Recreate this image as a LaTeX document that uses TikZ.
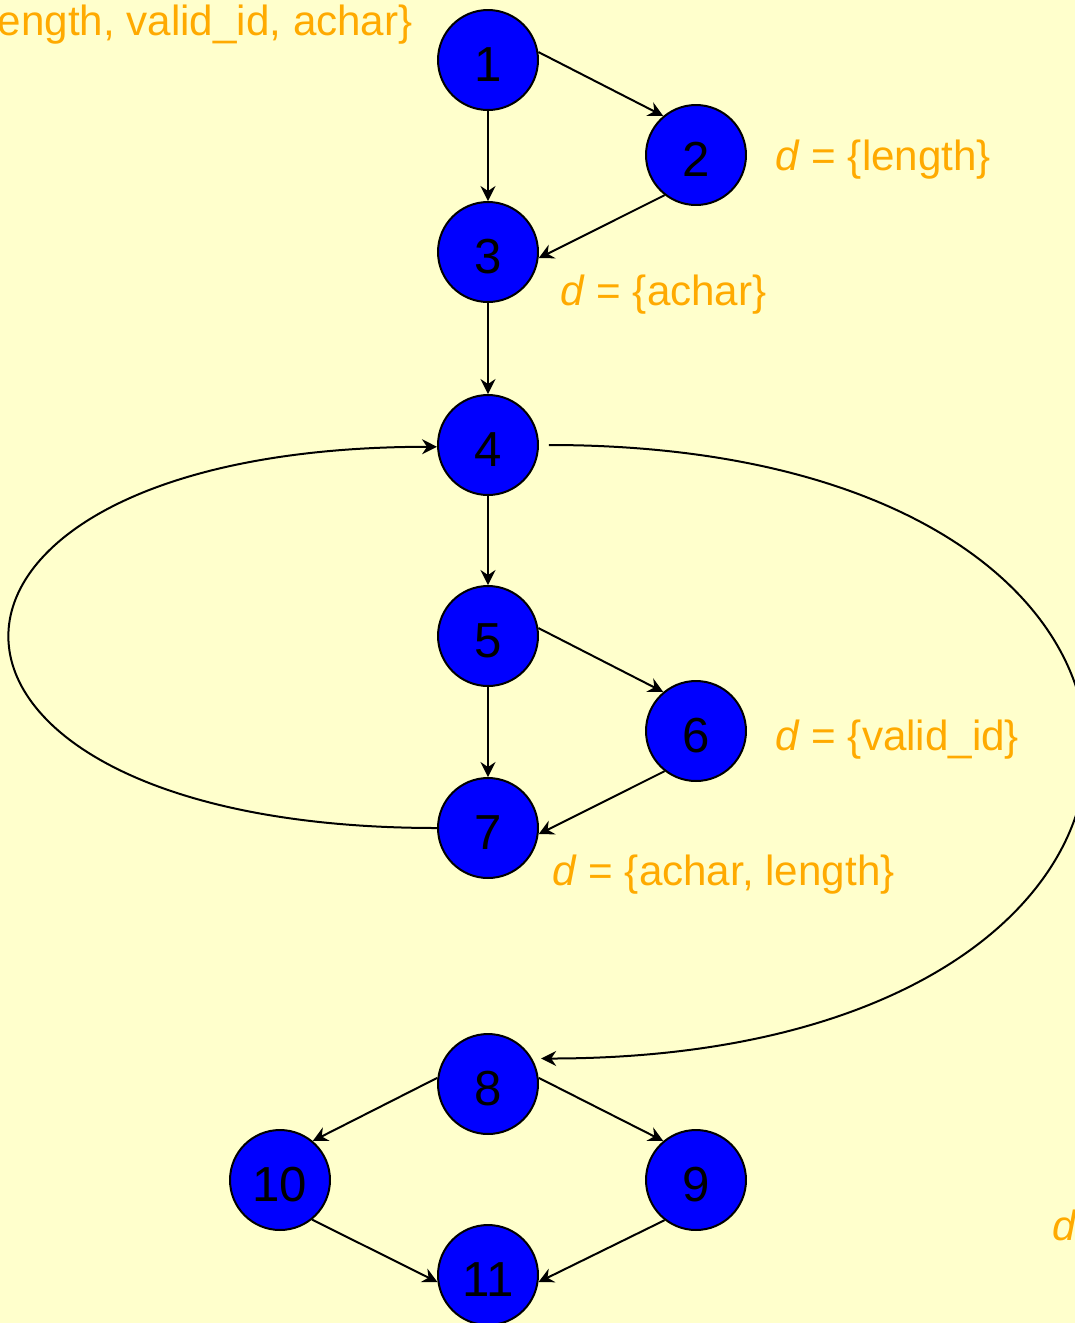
\documentclass[tikz,border=0pt]{standalone}
\usepackage{fontspec}
\setmainfont{Liberation Sans}
\usetikzlibrary{arrows.meta}
\definecolor{slidebg}{HTML}{FFFFCC}
\definecolor{deforange}{HTML}{FFAA00}
\definecolor{nodeblue}{HTML}{0000FF}

\begin{document}
\begin{tikzpicture}[
  x=0.02cm, y=-0.02cm,
  block/.style={circle, draw=black, line width=0.04cm, fill=nodeblue, minimum size=2cm, inner sep=0pt, text height=0.86cm, text depth=0pt, font=\fontsize{28}{28}\selectfont},
  defset/.style={text=deforange, inner sep=0pt, font=\fontsize{24}{24}\selectfont},
  flow/.style={-{Stealth[length=0.3cm, width=0.3cm, inset=0.1cm]}, line width=0.04cm},
]
\useasboundingbox (0,0) rectangle (1075,1323);
\clip (0,0) rectangle (1075,1323);
\fill[slidebg] (0,0) rectangle (1075,1323);

% nodes of the flow graph
\node[block] (n1) at (488,60) {1};
\node[block] (n2) at (696,155) {2};
\node[block] (n3) at (488,252) {3};
\node[block] (n4) at (488,445) {4};
\node[block] (n5) at (488,636) {5};
\node[block] (n6) at (696,731) {6};
\node[block] (n7) at (488,828) {7};
\node[block] (n8) at (488,1084) {8};
\node[block] (n9) at (696,1180) {9};
\node[block] (n10) at (280,1180) {10};
\node[block] (n11) at (488,1275) {11};

% definition sets
\node[defset, anchor=base east] (d1) at (413,35) {\textit{d} = \{length, valid\_id, achar\}};
\node[defset, anchor=base west] (d2) at (775,170) {\textit{d} = \{length\}};
\node[defset, anchor=base west] (d3) at (560,305) {\textit{d} = \{achar\}};
\node[defset, anchor=base west] (d6) at (775,750) {\textit{d} = \{valid\_id\}};
\node[defset, anchor=base west] (d7) at (552,885) {\textit{d} = \{achar, length\}};
\node[defset, anchor=base west] (d9) at (1052,1240) {\textit{d}};

% edges
\draw[flow] (n1.9) -- (n2.130);
\draw[flow] (n1.south) -- (n3.north);
\draw[flow] (n2.232) -- (n3.353);
\draw[flow] (n3.south) -- (n4.north);
\draw[flow] (n4.south) -- (n5.north);
\draw[flow] (n5.9) -- (n6.130);
\draw[flow] (n5.south) -- (n7.north);
\draw[flow] (n6.232) -- (n7.353);
\draw[flow] (n7.west) .. controls +(-570,0) and +(-570,0) .. (n4.182);
\draw[flow, shorten <=0.2cm, shorten >=0.18cm] (n4.east) .. controls +(730,0) and +(730,0) .. (n8.30);
\draw[flow] (n8.7) -- (n9.130);
\draw[flow] (n8.173) -- (n10.50);
\draw[flow] (n10.309) -- (n11.188);
\draw[flow] (n9.232) -- (n11.352);
\end{tikzpicture}
\end{document}
